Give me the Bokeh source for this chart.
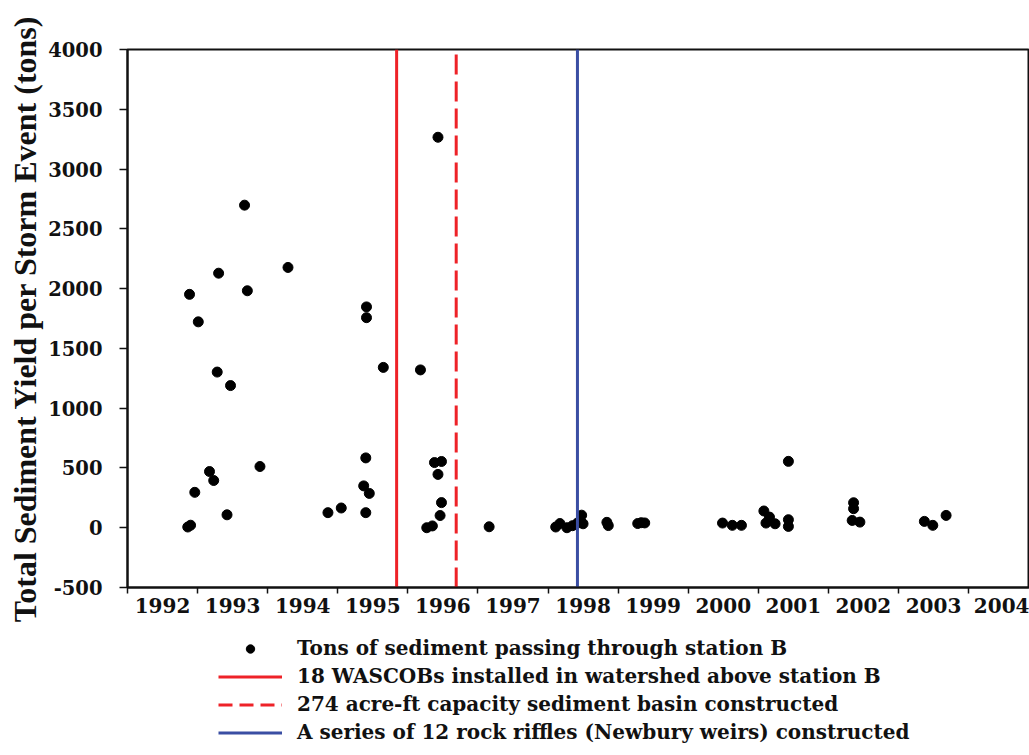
from bokeh.plotting import figure
from bokeh.layouts import column
from bokeh.models import Range1d, FixedTicker, Legend, LegendItem, ColumnDataSource
from bokeh.embed import file_html
from bokeh.resources import INLINE

# ---- data ----
years = [1992.86, 1992.90, 1992.885, 1992.96, 1993.01, 1993.17, 1993.23, 1993.28,
         1993.30, 1993.42, 1993.47, 1993.67, 1993.71, 1993.89, 1994.29, 1994.86,
         1995.05, 1995.37, 1995.40, 1995.40, 1995.41, 1995.41, 1995.45, 1995.65,
         1996.18, 1996.27, 1996.35, 1996.38, 1996.43, 1996.43, 1996.46, 1996.48,
         1996.48, 1997.16, 1998.11, 1998.17, 1998.27, 1998.35, 1998.42, 1998.48,
         1998.50, 1998.84, 1998.86, 1999.28, 1999.33, 1999.38, 2000.49, 2000.63,
         2000.76, 2001.08, 2001.16, 2001.11, 2001.24, 2001.43, 2001.43, 2001.43,
         2002.36, 2002.36, 2002.34, 2002.45, 2003.37, 2003.49, 2003.68]
tons = [6, 21, 1952, 296, 1722, 470, 395, 1302,
        2129, 108, 1189, 2698, 1982, 512, 2177, 126,
        165, 350, 126, 584, 1757, 1847, 287, 1341,
        1320, 0, 15, 545, 446, 3266, 102, 210,
        554, 8, 6, 35, 0, 17, 39, 105,
        33, 45, 18, 35, 42, 40, 39, 20,
        20, 140, 89, 39, 33, 67, 11, 555,
        209, 159, 61, 47, 53, 20, 103]

event_years = [1995.84, 1996.69, 1998.42]
event_labels = ["18 WASCOBs installed in watershed above station B",
                "274 acre-ft capacity sediment basin constructed",
                "A series of 12 rock riffles (Newbury weirs) constructed"]
event_colors = ["#ee2228", "#ee2228", "#3a4ea3"]
event_dashes = ["solid", "20 7", "solid"]
legend_dashes = ["solid", "14 7", "solid"]
scatter_label = "Tons of sediment passing through station B"

year_bounds = list(range(1992, 2006))
year_labels = [str(y) for y in range(1992, 2005)]
y_ticks = list(range(-500, 4001, 500))
y_tick_labels = [str(v) for v in y_ticks]
y_title = "Total Sediment Yield per Storm Event (tons)"

Y_MIN, Y_MAX = -500, 4000
X_MIN, X_MAX = 1992, 2004.87

TXT_FONT = "DejaVu Serif"
INK = "#111111"

p = figure(width=1029, height=626,
           x_range=Range1d(X_MIN, X_MAX), y_range=Range1d(Y_MIN, Y_MAX),
           output_backend="svg", toolbar_location=None,
           min_border_left=127, min_border_right=0,
           min_border_top=49, min_border_bottom=39)

p.xgrid.visible = False
p.ygrid.visible = False
p.outline_line_color = INK
p.outline_line_width = 2
p.background_fill_color = "white"
p.border_fill_color = "white"

# x axis: labels centred in each year, ticks at year boundaries
mid = [y + 0.5 for y in range(1992, 2005)]
p.xaxis.ticker = FixedTicker(ticks=mid, minor_ticks=year_bounds)
p.xaxis.major_label_overrides = {m: lab for m, lab in zip(mid, year_labels)}
p.xaxis.major_tick_out = 0
p.xaxis.major_tick_in = 0
p.xaxis.minor_tick_out = 6
p.xaxis.minor_tick_in = 0
p.xaxis.minor_tick_line_color = INK
p.xaxis.minor_tick_line_width = 1.5
p.xaxis.axis_line_width = 2
p.xaxis.axis_line_color = INK
p.xaxis.major_label_text_font = TXT_FONT
p.xaxis.major_label_text_font_style = "bold"
p.xaxis.major_label_text_font_size = "20px"
p.xaxis.major_label_text_color = INK
p.xaxis.major_label_standoff = 4

p.yaxis.ticker = FixedTicker(ticks=y_ticks)
p.yaxis.major_label_overrides = {v: s for v, s in zip(y_ticks, y_tick_labels)}
p.yaxis.minor_tick_line_color = None
p.yaxis.major_tick_out = 8
p.yaxis.major_tick_in = 0
p.yaxis.major_tick_line_width = 1.5
p.yaxis.major_tick_line_color = INK
p.yaxis.axis_line_width = 2
p.yaxis.axis_line_color = INK
p.yaxis.major_label_text_font = TXT_FONT
p.yaxis.major_label_text_font_style = "bold"
p.yaxis.major_label_text_font_size = "19.5px"
p.yaxis.major_label_text_color = INK
p.yaxis.major_label_standoff = 17
p.yaxis.axis_label = y_title
p.yaxis.axis_label_text_font = "Liberation Serif"
p.yaxis.axis_label_text_font_style = "bold"
p.yaxis.axis_label_text_font_size = "32px"
p.yaxis.axis_label_text_color = INK
p.yaxis.axis_label_standoff = 2

src = ColumnDataSource(dict(x=years, y=tons))
p.scatter("x", "y", source=src, size=10, color="black")
for yr, col, dash in zip(event_years, event_colors, event_dashes):
    p.segment(x0=[yr], y0=[Y_MIN], x1=[yr], y1=[Y_MAX],
              line_color=col, line_width=3, line_dash=dash)

# ---- legend panel below the chart (same data, outside its visible range) ----
lg = figure(width=1029, height=129, x_range=Range1d(0, 1), y_range=Range1d(0, 1),
            output_backend="svg", toolbar_location=None,
            x_axis_type=None, y_axis_type=None,
            min_border_left=0, min_border_right=0, min_border_top=0, min_border_bottom=0)
lg.xgrid.visible = False
lg.ygrid.visible = False
lg.outline_line_color = None
lg.background_fill_color = "white"
lg.border_fill_color = "white"

items = [LegendItem(label=scatter_label,
                    renderers=[lg.scatter("x", "y", source=src, size=9, color="black")])]
for yr, lab, col, dash in zip(event_years, event_labels, event_colors, legend_dashes):
    r = lg.segment(x0=[yr], y0=[Y_MIN], x1=[yr], y1=[Y_MAX],
                   line_color=col, line_width=3, line_dash=dash)
    items.append(LegendItem(label=lab, renderers=[r]))

legend = Legend(items=items, location=(91, 11),
                label_text_font=TXT_FONT, label_text_font_style="bold",
                label_text_font_size="20px", label_text_color=INK,
                glyph_width=64, glyph_height=21, label_height=21,
                spacing=4, padding=0, margin=0, label_standoff=15,
                border_line_alpha=0, background_fill_alpha=0)
lg.add_layout(legend)

open("out.html", "w").write(file_html(column(p, lg, spacing=0), INLINE))
